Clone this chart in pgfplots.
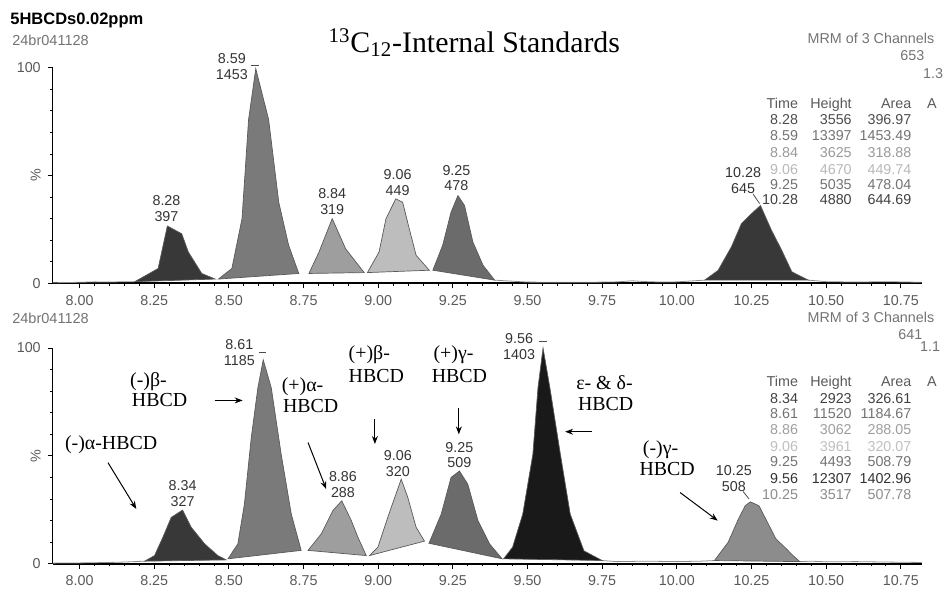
\documentclass[border=0pt]{standalone}
\usepackage{graphicx}
\usepackage{pgfplots}
\pgfplotsset{compat=1.18}
\usetikzlibrary{arrows.meta}
\usepackage{fontspec}
\setmainfont{Liberation Sans}
\newfontfamily\serif{Liberation Serif}

\definecolor{pkA}{gray}{0.22}
\definecolor{pkB}{gray}{0.48}
\definecolor{pkC}{gray}{0.62}
\definecolor{pkD}{gray}{0.74}
\definecolor{pkE}{gray}{0.42}
\definecolor{pkF}{gray}{0.10}
\definecolor{pkG}{gray}{0.55}

\pgfplotsset{
  chrom/.style={
    scale only axis, width=437pt, height=108.5pt,
    xmin=7.91, xmax=10.82, ymin=0, ymax=100,
    axis x line=bottom, axis y line=left, axis line style={-},
    x axis line style={line width=0.9pt}, y axis line style={line width=0.5pt},
    clip=false,
    xtick={8,8.25,8.5,8.75,9,9.25,9.5,9.75,10,10.25,10.5,10.75},
    minor x tick num=4,
    xticklabel style={/pgf/number format/fixed, /pgf/number format/fixed zerofill, /pgf/number format/precision=2},
    ytick={0,50,100}, yticklabels={0,\rotatebox{90}{\%},100},
    minor y tick num=4,
    tick align=outside, major tick length=2.5pt, minor tick length=1.2pt,
    every tick/.style={black, line width=0.4pt},
    tick label style={font=\fontsize{7.2}{8}\selectfont, text=black!65},
    /pgf/number format/assume math mode=true,
  },
  peak/.style={fill=#1, draw=black!65, line width=0.35pt},
  trace/.style={black!45, line width=0.4pt},
}
\tikzset{
  lbl/.style={font=\fontsize{7.2}{8}\selectfont, align=center, inner sep=0pt, text=black!80},
  ann/.style={font=\serif\fontsize{10}{11}\selectfont, inner sep=0pt, anchor=west},
  arr/.style={-{Stealth[length=4pt,width=3pt]}, line width=0.5pt},
  tb/.style={font=\fontsize{7.2}{8}\selectfont, inner sep=0pt, anchor=base east},
}
\newcommand\trow[5]{%
  \node[tb,text=#2] at (803,#1) {#3};
  \node[tb,text=#2] at (857,#1) {#4};
  \node[tb,text=#2] at (917,#1) {#5};}

\begin{document}
\begin{tikzpicture}
\begin{scope}[x=0.5pt,y=-0.5pt]
\useasboundingbox (0,0) rectangle (943,596);
\end{scope}

% ---------------- top panel: internal standards ----------------
\begin{axis}[chrom, at={(26.5pt,-142.5pt)}, anchor=south west]
\addplot[trace] coordinates {(7.91,0.3) (8.0,0.5) (8.05,0.7) (8.1,0.6) (8.15,0.8) (8.185,0.8)};
\addplot[trace] coordinates {(9.39,1.5) (9.45,1.0) (9.5,0.6) (9.6,0.5) (9.7,0.5) (9.8,0.7)
  (9.85,1.2) (9.9,0.8) (9.95,0.6) (10.0,0.7) (10.093,1.5)};
\addplot[trace] coordinates {(10.441,1.5) (10.5,0.8) (10.6,0.6) (10.7,0.8) (10.82,0.5)};

\addplot[peak=pkA] coordinates {(8.185,0.8) (8.263,6.9) (8.294,26.6) (8.342,23) (8.364,14.6)
  (8.409,4.6) (8.454,2)} -- cycle;
\addplot[peak=pkB] coordinates {(8.465,2) (8.51,6.9) (8.544,30) (8.566,76) (8.59,99.5)
  (8.633,76) (8.667,37.6) (8.70,17.7) (8.734,4.6)} -- cycle;
\addplot[peak=pkC] coordinates {(8.768,4.6) (8.802,14.6) (8.846,30) (8.891,16) (8.953,5)} -- cycle;
\addplot[peak=pkD] coordinates {(8.964,5) (9.003,14.6) (9.026,30) (9.059,39.2) (9.082,37.6)
  (9.104,25.3) (9.127,13) (9.171,6.1)} -- cycle;
\addplot[peak=pkE] coordinates {(9.183,6.1) (9.216,17.7) (9.244,33) (9.267,40.7) (9.289,36.1)
  (9.317,19.2) (9.351,8.4) (9.39,1.5)} -- cycle;
\addplot[peak=pkA] coordinates {(10.093,1.5) (10.138,6) (10.183,17) (10.216,27.6) (10.25,32.3)
  (10.28,36.1) (10.317,24.6) (10.351,15.4) (10.385,5.4) (10.407,3.8) (10.441,1.5)} -- cycle;

\node[lbl] at (axis cs:8.291,34.6) {8.28\\397};
\node[lbl] at (axis cs:8.51,100.5) {8.59\\1453};
\node[lbl] at (axis cs:8.846,38) {8.84\\319};
\node[lbl] at (axis cs:9.065,46.9) {9.06\\449};
\node[lbl] at (axis cs:9.262,48.8) {9.25\\478};
\node[lbl] at (axis cs:10.222,47.6) {10.28\\645};
\draw[black!70, line width=0.4pt] (axis cs:8.575,101) -- (axis cs:8.60,101);
\draw[black!70, line width=0.4pt] (axis cs:10.255,41.5) -- (axis cs:10.277,37);
\end{axis}

% ---------------- bottom panel: native HBCD stereoisomers ----------------
\begin{axis}[chrom, at={(26.5pt,-283.5pt)}, anchor=south west]
\addplot[trace] coordinates {(7.91,0.3) (8.0,0.4) (8.1,0.6) (8.15,0.8) (8.218,1.2)};
\addplot[trace] coordinates {(9.75,1.5) (9.8,1.0) (9.9,1.2) (10.0,1.0) (10.08,1.2) (10.126,1.5)};
\addplot[trace] coordinates {(10.412,1) (10.45,1.2) (10.5,0.9) (10.6,1.0) (10.7,0.8) (10.82,0.6)};

\addplot[peak=pkA] coordinates {(8.218,1.2) (8.251,3.8) (8.279,12.3) (8.307,21.5) (8.345,24.9)
  (8.374,16.9) (8.419,9.2) (8.463,3.8) (8.491,1.8)} -- cycle;
\addplot[peak=pkB] coordinates {(8.497,2.3) (8.53,9.2) (8.552,27.7) (8.575,58.5) (8.597,81.5)
  (8.615,94.5) (8.642,81.5) (8.675,50.8) (8.709,23) (8.742,6.2)} -- cycle;
\addplot[peak=pkC] coordinates {(8.765,6.2) (8.809,13.8) (8.848,24.6) (8.878,29.2) (8.91,20)
  (8.932,12.3) (8.96,3.8)} -- cycle;
\addplot[peak=pkD] coordinates {(8.971,3.8) (8.999,7.7) (9.032,21.5) (9.077,39.2) (9.099,30.8)
  (9.127,16.9) (9.155,10.5)} -- cycle;
\addplot[peak=pkE] coordinates {(9.17,9.5) (9.211,23) (9.244,40) (9.272,43) (9.30,36.9)
  (9.334,20) (9.373,9.2) (9.415,2.3)} -- cycle;
\addplot[peak=pkF] coordinates {(9.42,2.3) (9.45,7.7) (9.484,23) (9.518,50.8) (9.535,81.5)
  (9.552,100) (9.575,81.5) (9.61,50.8) (9.643,23) (9.689,6) (9.75,1.5)} -- cycle;
\addplot[peak=pkG] coordinates {(10.126,1.5) (10.172,10) (10.206,20.7) (10.229,26.9) (10.246,28.7)
  (10.275,26.9) (10.298,20.7) (10.332,11.5) (10.367,6.9) (10.389,3.8) (10.412,1)} -- cycle;

\node[lbl] at (axis cs:8.345,32.7) {8.34\\327};
\node[lbl] at (axis cs:8.535,98) {8.61\\1185};
\node[lbl] at (axis cs:8.882,36.9) {8.86\\288};
\node[lbl] at (axis cs:9.066,46.5) {9.06\\320};
\node[lbl] at (axis cs:9.272,50.4) {9.25\\509};
\node[lbl] at (axis cs:9.472,100.8) {9.56\\1403};
\node[lbl] at (axis cs:10.191,39.6) {10.25\\508};
\draw[black!70, line width=0.4pt] (axis cs:8.60,98) -- (axis cs:8.625,98);
\draw[black!70, line width=0.4pt] (axis cs:9.54,103) -- (axis cs:9.565,103);
\draw[black!70, line width=0.4pt] (axis cs:10.222,33.5) -- (axis cs:10.242,30);

\node[ann] at (axis cs:7.95,55.4) {(-)α-HBCD};
\node[ann] at (axis cs:8.168,84.5) {(-)β-};
\node[ann] at (axis cs:8.174,76) {HBCD};
\node[ann] at (axis cs:8.676,82) {(+)α-};
\node[ann] at (axis cs:8.680,73.2) {HBCD};
\node[ann] at (axis cs:8.90,97) {(+)β-};
\node[ann] at (axis cs:8.90,87.2) {HBCD};
\node[ann] at (axis cs:9.184,97) {(+)γ-};
\node[ann] at (axis cs:9.178,87.2) {HBCD};
\node[ann] at (axis cs:9.662,84) {ε- \& δ-};
\node[ann] at (axis cs:9.668,74) {HBCD};
\node[ann] at (axis cs:9.885,53) {(-)γ-};
\node[ann] at (axis cs:9.874,43.8) {HBCD};

\draw[arr] (axis cs:8.095,46.9) -- (axis cs:8.19,25.4);
\draw[arr] (axis cs:8.452,75.7) -- (axis cs:8.546,75.7);
\draw[arr] (axis cs:8.765,56.2) -- (axis cs:8.826,34.6);
\draw[arr] (axis cs:8.989,67) -- (axis cs:8.989,55.5);
\draw[arr] (axis cs:9.27,72) -- (axis cs:9.27,60);
\draw[arr] (axis cs:9.715,61.2) -- (axis cs:9.626,61.2);
\draw[arr] (axis cs:10.011,33) -- (axis cs:10.137,20);
\end{axis}

% ---------------- header texts and peak tables ----------------
\begin{scope}[x=0.5pt,y=-0.5pt]
\node[font=\bfseries\fontsize{8.3}{9}\selectfont, anchor=base west, inner sep=0pt] at (10,25) {5HBCDs0.02ppm};
\node[font=\fontsize{7.3}{8}\selectfont, text=black!55, anchor=base west, inner sep=0pt] at (12,46) {24br041128};
\node[font=\fontsize{7.3}{8}\selectfont, text=black!55, anchor=base west, inner sep=0pt] at (12,325) {24br041128};
\node[font=\serif\fontsize{15}{17}\selectfont, anchor=base, inner sep=0pt] at (477,53)
  {\textsuperscript{13}C\textsubscript{12}-Internal Standards};

\node[font=\fontsize{7.2}{8}\selectfont, text=black!55, anchor=base east, inner sep=0pt] at (940,44) {MRM of 3 Channels};
\node[font=\fontsize{7.2}{8}\selectfont, text=black!55, anchor=base east, inner sep=0pt] at (930,61) {653};
\node[font=\fontsize{7.2}{8}\selectfont, text=black!55, anchor=base west, inner sep=0pt] at (928,79) {1.3};
\node[font=\fontsize{7.2}{8}\selectfont, text=black!55, anchor=base east, inner sep=0pt] at (940,324) {MRM of 3 Channels};
\node[font=\fontsize{7.2}{8}\selectfont, text=black!55, anchor=base east, inner sep=0pt] at (928,341) {641};
\node[font=\fontsize{7.2}{8}\selectfont, text=black!55, anchor=base west, inner sep=0pt] at (925,354) {1.1};

\trow{109}{black!65}{Time}{Height}{Area}
\node[tb,text=black!65,anchor=base west] at (932,109) {A};
\trow{125}{black!70}{8.28}{3556}{396.97}
\trow{141}{black!55}{8.59}{13397}{1453.49}
\trow{158}{black!40}{8.84}{3625}{318.88}
\trow{175}{black!28}{9.06}{4670}{449.74}
\trow{191}{black!55}{9.25}{5035}{478.04}
\trow{206}{black!75}{10.28}{4880}{644.69}

\trow{389}{black!65}{Time}{Height}{Area}
\node[tb,text=black!65,anchor=base west] at (932,389) {A};
\trow{406}{black!75}{8.34}{2923}{326.61}
\trow{421}{black!55}{8.61}{11520}{1184.67}
\trow{437}{black!38}{8.86}{3062}{288.05}
\trow{454}{black!25}{9.06}{3961}{320.07}
\trow{469}{black!55}{9.25}{4493}{508.79}
\trow{486}{black!80}{9.56}{12307}{1402.96}
\trow{502}{black!45}{10.25}{3517}{507.78}
\end{scope}
\end{tikzpicture}
\end{document}
